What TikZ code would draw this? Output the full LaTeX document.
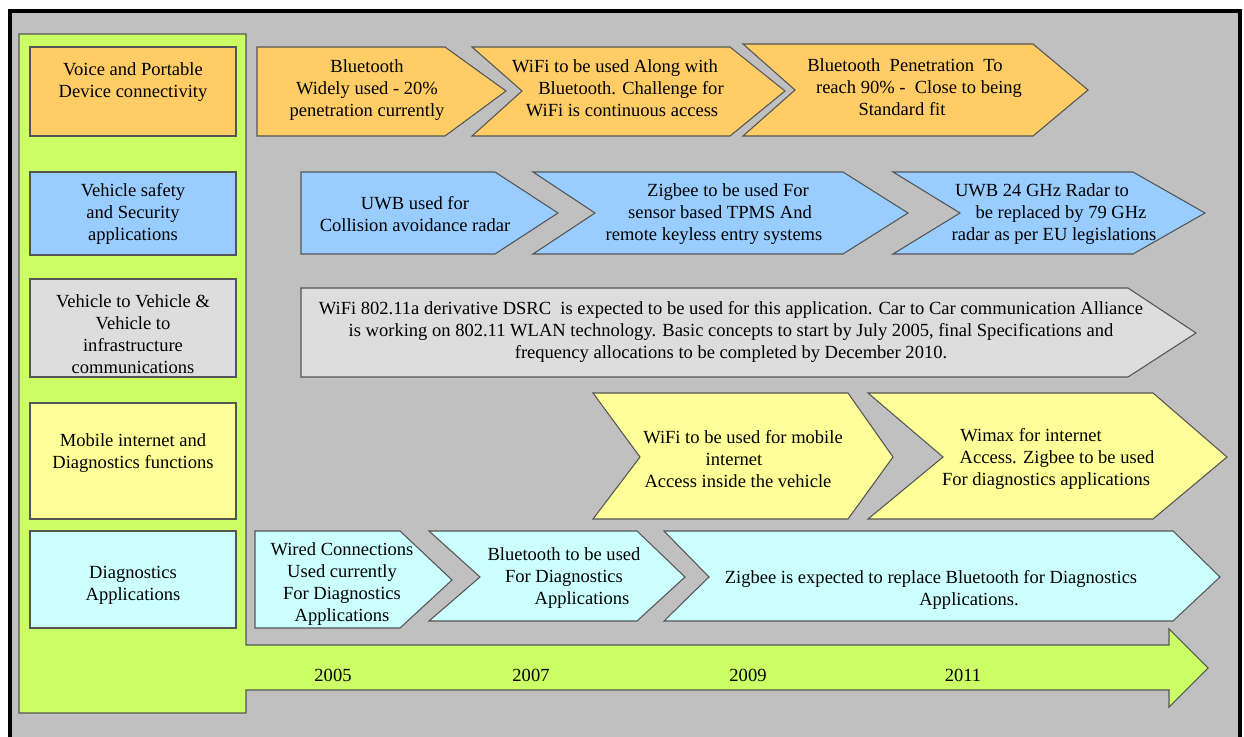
\documentclass[tikz,border=0pt]{standalone}
\usepackage{fontspec}
\setmainfont{Liberation Serif}
\definecolor{bgray}{HTML}{C0C0C0}
\definecolor{corange}{HTML}{FFCC66}
\definecolor{cblue}{HTML}{99CCFF}
\definecolor{clgray}{HTML}{DDDDDD}
\definecolor{cyellow}{HTML}{FFFF99}
\definecolor{ccyan}{HTML}{CCFFFF}
\definecolor{clime}{HTML}{CCFF66}
\definecolor{cedge}{HTML}{555555}
\newcommand{\gapr}[1]{\rule{#1pt}{0pt}}
\tikzset{
  shp/.style={draw=cedge, line width=0.8pt, line join=miter},
  txt/.style={font=\fontsize{13.9}{16.5}\selectfont, align=center, inner sep=0pt, text=black, yshift=-1.8pt},
  yr/.style={font=\fontsize{13.9}{16.5}\selectfont, inner sep=0pt, text=black}
}
\begin{document}
\begin{tikzpicture}[x=0.75pt,y=-0.75pt]
\useasboundingbox (0,0) rectangle (1244,737);
\fill[white] (0,0) rectangle (1244,737);
\begin{scope}
\clip (0,0) rectangle (1244,737);
\draw[fill=bgray, line width=3pt] (10,11) rectangle (1240,760);
\end{scope}
% left column + timeline arrow
\draw[shp, fill=clime] (19,34) -- (246,34) -- (246,645) -- (1169,645) -- (1169,629) -- (1208,668)
  -- (1169,707) -- (1169,690) -- (246,690) -- (246,713) -- (19,713) -- cycle;
% category boxes
\draw[shp, fill=corange] (30,47) rectangle (236,136);
\draw[shp, fill=cblue] (30,172) rectangle (236,255);
\draw[shp, fill=clgray] (30,279) rectangle (236,377);
\draw[shp, fill=cyellow] (30,403) rectangle (236,519);
\draw[shp, fill=ccyan] (30,531) rectangle (236,628);
\node[txt] (c1) at (133,80) {Voice and Portable\\Device connectivity};
\node[txt] (c2) at (133,212) {Vehicle safety\\and Security\\applications};
\node[txt] (c3) at (133,332) {Vehicle to Vehicle \&\\Vehicle to\\infrastructure\\communications};
\node[txt] (c4) at (133,450.5) {Mobile internet and\\Diagnostics functions};
\node[txt] (c5) at (133,582.5) {Diagnostics\\Applications};
% row 1
\draw[shp, fill=corange] (257,47) -- (445,47) -- (506,91) -- (445,136) -- (257,136) -- cycle;
\draw[shp, fill=corange] (472,47) -- (730,47) -- (785,91) -- (730,136) -- (472,136) -- (522,91) -- cycle;
\draw[shp, fill=corange] (743,44) -- (1033,44) -- (1088,90) -- (1033,136) -- (743,136) -- (795,90) -- cycle;
\node[txt] (a1) at (367,88) {Bluetooth\\Widely used - 20\%\\penetration currently};
\node[txt] (a2) at (622,86) {WiFi to be used Along with\gapr{10.5}\\\gapr{13.5}Bluetooth. Challenge for\\WiFi is continuous access};
\node[txt] (a3) at (905,85) {Bluetooth\ \ Penetration\ \ To\\\gapr{21}reach 90\% -\ \ Close to being\\Standard fit\gapr{4.5}};
% row 2
\draw[shp, fill=cblue] (301,172) -- (495,172) -- (558,213) -- (495,254) -- (301,254) -- cycle;
\draw[shp, fill=cblue] (533,172) -- (843,172) -- (908,213) -- (843,254) -- (533,254) -- (595,213) -- cycle;
\draw[shp, fill=cblue] (893,172) -- (1133,172) -- (1205,213) -- (1133,254) -- (893,254) -- (960,213) -- cycle;
\node[txt] (b1) at (415,212) {UWB used for\\Collision avoidance radar};
\node[txt] (b2) at (720,212) {\gapr{12}Zigbee to be used For\\sensor based TPMS And\\remote keyless entry systems\gapr{9}};
\node[txt] (b3) at (1054,212) {UWB 24 GHz Radar to\gapr{18}\\\gapr{10.5}be replaced by 79 GHz\\radar as per EU legislations};
% row 3
\draw[shp, fill=clgray] (301,288) -- (1128,288) -- (1196,333) -- (1128,377) -- (301,377) -- cycle;
\node[txt] (g1) at (731,330) {WiFi 802.11a derivative DSRC\ \ is expected to be used for this application. Car to Car communication Alliance\\is working on 802.11 WLAN technology. Basic concepts to start by July 2005, final Specifications and\\frequency allocations to be completed by December 2010.};
% row 4
\draw[shp, fill=cyellow] (593,393) -- (848,393) -- (893,457) -- (848,519) -- (593,519) -- (640,457) -- cycle;
\draw[shp, fill=cyellow] (868,393) -- (1153,393) -- (1227,457) -- (1153,519) -- (868,519) -- (943,457) -- cycle;
\node[txt] (d1) at (738,457) {\gapr{7.5}WiFi to be used for mobile\\internet\gapr{6}\\Access inside the vehicle};
\node[txt] (d2) at (1046,457) {Wimax for internet\gapr{22.5}\\\gapr{16.5}Access. Zigbee to be used\\For diagnostics applications};
% row 5
\draw[shp, fill=ccyan] (255,531) -- (400,531) -- (452,580) -- (400,628) -- (255,628) -- cycle;
\draw[shp, fill=ccyan] (429,531) -- (637,531) -- (685,577) -- (637,621) -- (429,621) -- (480,577) -- cycle;
\draw[shp, fill=ccyan] (664,531) -- (1173,531) -- (1220,577) -- (1173,621) -- (664,621) -- (709,577) -- cycle;
\node[txt] (e1) at (342,582) {Wired Connections\\Used currently\\For Diagnostics\\Applications};
\node[txt] (e2) at (564,576) {Bluetooth to be used\\For Diagnostics\\\gapr{27}Applications};
\node[txt] (e3) at (931,587.5) {Zigbee is expected to replace Bluetooth for Diagnostics\\\gapr{57}Applications.};
% years
\node[yr] (y1) at (333,675) {2005};
\node[yr] (y2) at (531,675) {2007};
\node[yr] (y3) at (748,675) {2009};
\node[yr] (y4) at (963,675) {2011};
\end{tikzpicture}
\end{document}
